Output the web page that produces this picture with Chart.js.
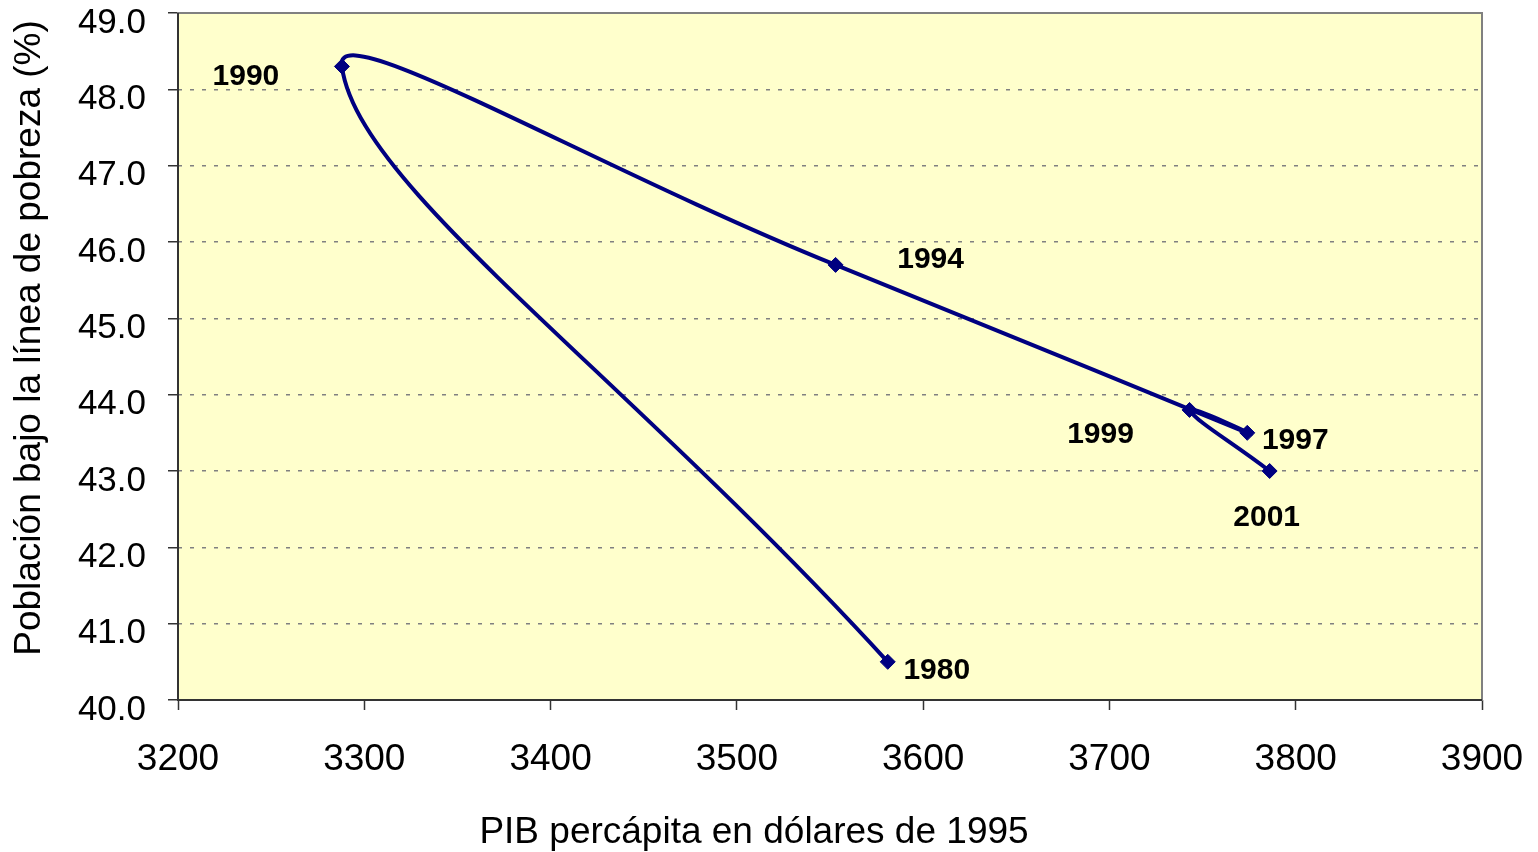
<!DOCTYPE html>
<html>
<head>
<meta charset="utf-8">
<script src="https://cdn.jsdelivr.net/npm/chart.js@4.4.1/dist/chart.umd.min.js"></script>
<style>
  html,body{margin:0;padding:0;background:#fff;}
  #wrap{width:1538px;height:852px;position:relative;}
</style>
</head>
<body>
<div id="wrap"><canvas id="chart"></canvas></div>
<script>
/* ===== data ===== */
const YEARS   = ['1980','1990','1994','1997','1999','2001'];
const PIB     = [3581, 3288, 3553, 3774, 3743, 3786];
const POBREZA = [40.5, 48.3, 45.7, 43.5, 43.8, 43.0];
const X_TICKS = [3200, 3300, 3400, 3500, 3600, 3700, 3800, 3900];
const Y_TICKS = [40, 41, 42, 43, 44, 45, 46, 47, 48, 49];

// label placement relative to each point (px)
const LABEL_DX = [49, -96, 95, 48, -89, -3];
const LABEL_DY = [9, 10, -5, 8, 25, 47];

const FONT = '"Liberation Sans", Arial, sans-serif';

const plotBg = {
  id:'plotBg',
  beforeDraw(chart){
    const {ctx, chartArea:a} = chart;
    ctx.save();
    ctx.fillStyle = '#FFFFCC';
    ctx.fillRect(a.left, a.top, a.right - a.left, a.bottom - a.top);
    ctx.restore();
  },
  beforeDatasetsDraw(chart){
    const {ctx, chartArea:a} = chart;
    ctx.save();
    ctx.strokeStyle = '#808080';
    ctx.lineWidth = 2;
    ctx.strokeRect(a.left, a.top, a.right - a.left, a.bottom - a.top);
    ctx.strokeStyle = '#333';
    ctx.lineWidth = 2;
    ctx.beginPath();
    ctx.moveTo(a.left, a.top); ctx.lineTo(a.left, a.bottom); ctx.lineTo(a.right, a.bottom);
    ctx.stroke();
    ctx.restore();
  }
};

const yearLabels = {
  id:'yearLabels',
  afterDatasetsDraw(chart){
    const {ctx} = chart;
    const pts = chart.getDatasetMeta(0).data;
    ctx.save();
    ctx.font = 'bold 30px ' + FONT;
    ctx.fillStyle = '#000';
    ctx.textAlign = 'center';
    ctx.textBaseline = 'middle';
    pts.forEach((p, i) => ctx.fillText(YEARS[i], p.x + LABEL_DX[i], p.y + LABEL_DY[i]));
    ctx.restore();
  }
};

const axisTitles = {
  id:'axisTitles',
  afterDraw(chart){
    const {ctx, chartArea:a} = chart;
    ctx.save();
    ctx.font = '37px ' + FONT;
    ctx.fillStyle = '#000';
    ctx.textAlign = 'center';
    ctx.textBaseline = 'middle';
    ctx.fillText('PIB percápita en dólares de 1995', a.left + 576, a.bottom + 133);
    ctx.translate(30, a.top + 325);
    ctx.rotate(-Math.PI / 2);
    ctx.fillText('Población bajo la línea de pobreza (%)', 0, 0);
    ctx.restore();
  }
};

const points = PIB.map((x, i) => ({x, y:POBREZA[i]}));

new Chart(document.getElementById('chart'), {
  type:'scatter',
  data:{ datasets:[{
    data:points,
    showLine:true,
    tension:0.5,
    borderColor:'#000080',
    borderWidth:4,
    pointStyle:'rectRot',
    pointRadius:7.5,
    pointBackgroundColor:'#000080',
    pointBorderColor:'#000080',
    pointBorderWidth:1,
  }]},
  options:{
    responsive:true,
    maintainAspectRatio:false,
    animation:false,
    layout:{ padding:{ top:13, right:56, left:0, bottom:0 } },
    plugins:{ legend:{display:false}, tooltip:{enabled:false} },
    scales:{
      x:{
        type:'linear', min:X_TICKS[0], max:X_TICKS[X_TICKS.length-1],
        afterBuildTicks(s){ s.ticks = X_TICKS.map(v => ({value:v})); },
        afterFit(s){ s.height = 152; s.paddingLeft = 0; s.paddingRight = 0; },
        grid:{ drawOnChartArea:false, drawTicks:true, tickLength:10, tickColor:'#333', tickWidth:1.5 },
        border:{ display:false },
        ticks:{ color:'#000', padding:28, maxRotation:0, autoSkip:false, font:{family:FONT, size:37},
                callback:v => String(v) },
      },
      y:{
        type:'linear', min:Y_TICKS[0], max:Y_TICKS[Y_TICKS.length-1],
        afterBuildTicks(s){ s.ticks = Y_TICKS.map(v => ({value:v})); },
        afterFit(s){ s.width = 178; s.paddingTop = 0; s.paddingBottom = 0; },
        grid:{ color:'#808080', lineWidth:1.5, tickLength:10, tickColor:'#333', tickWidth:1.5, tickBorderDash:[] },
        border:{ display:false, dash:[4,8] },
        ticks:{ color:'#000', padding:22, labelOffset:10, autoSkip:false, font:{family:FONT, size:35},
                callback:v => v.toFixed(1) },
      }
    }
  },
  plugins:[plotBg, yearLabels, axisTitles]
});
</script>
</body>
</html>
